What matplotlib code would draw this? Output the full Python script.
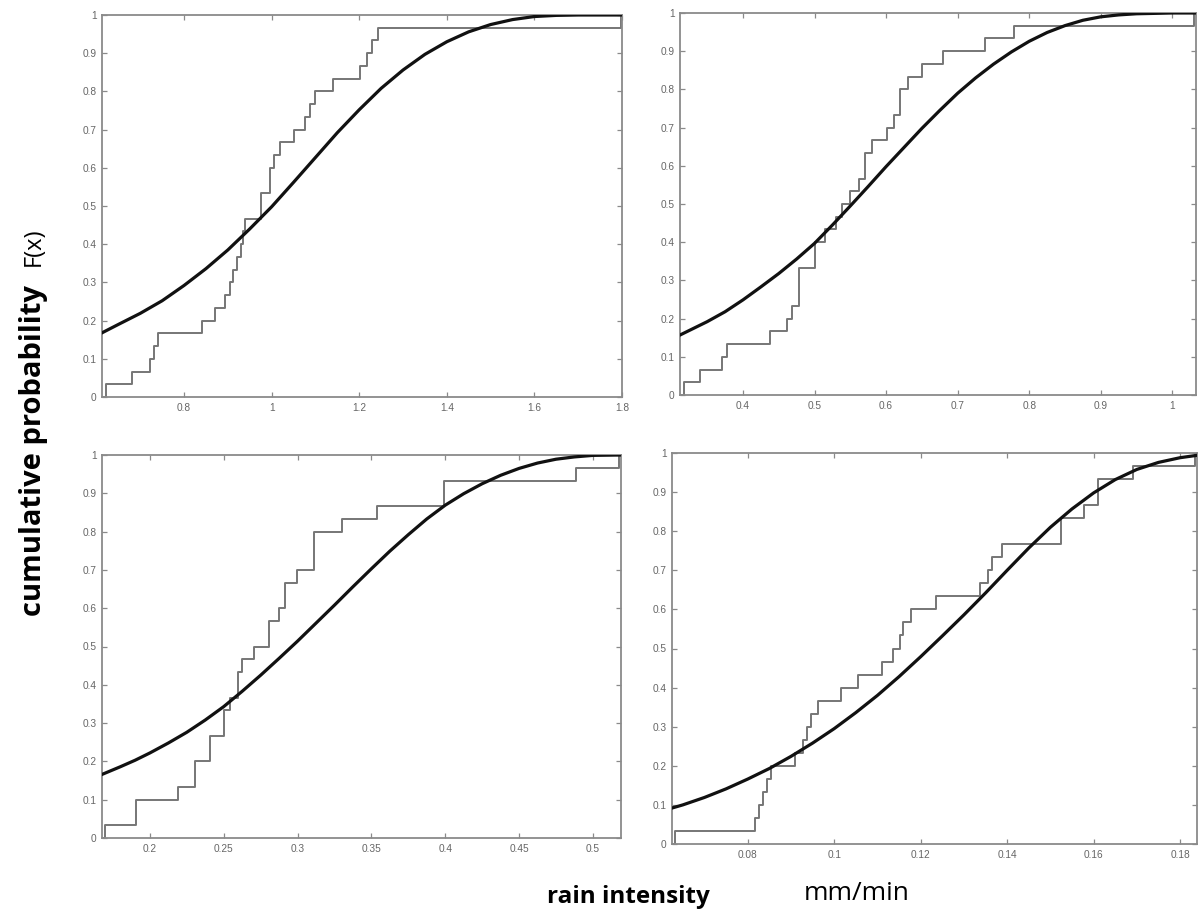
import matplotlib
matplotlib.use("Agg")
import matplotlib.pyplot as plt
import numpy as np

# ---- panel data ----
# sorted rain-intensity samples behind each empirical CDF (30 values each)
SAMPLES_TL = [0.6225, 0.680, 0.7215, 0.731, 0.7406, 0.841, 0.870, 0.893, 0.904, 0.912,
              0.922, 0.929, 0.935, 0.940, 0.975, 0.975, 0.996, 0.996, 1.006, 1.019,
              1.051, 1.077, 1.087, 1.099, 1.141, 1.202, 1.217, 1.228, 1.242, 1.797]
SAMPLES_TR = [0.317, 0.3395, 0.3707, 0.3776, 0.4382, 0.4615, 0.4685, 0.478, 0.478, 0.478,
              0.500, 0.500, 0.515, 0.530, 0.538, 0.550, 0.5616, 0.570, 0.570, 0.580,
              0.601, 0.6105, 0.620, 0.620, 0.630, 0.650, 0.680, 0.7386, 0.778, 1.030]
SAMPLES_BL = [0.1699, 0.1903, 0.1903, 0.2193, 0.2306, 0.2306, 0.2408, 0.2408, 0.2503, 0.2503,
              0.2544, 0.2600, 0.2600, 0.2623, 0.2702, 0.2804, 0.2804, 0.2872, 0.2913, 0.2913,
              0.2997, 0.3110, 0.3110, 0.3110, 0.3303, 0.3541, 0.399, 0.399, 0.4887, 0.5175]
SAMPLES_BR = [0.0631, 0.0817, 0.0827, 0.0836, 0.0845, 0.0855, 0.0910, 0.0929, 0.0938, 0.0947,
              0.0962, 0.1015, 0.1056, 0.1110, 0.1136, 0.1153, 0.1159, 0.1178, 0.1236, 0.1338,
              0.1356, 0.1366, 0.1387, 0.1525, 0.1525, 0.1577, 0.1610, 0.1610, 0.1691, 0.1834]

# fitted distribution curves (x, F(x))
CURVE_TL_X = [0.6126, 0.65, 0.70, 0.75, 0.80, 0.85, 0.90, 0.95, 1.00, 1.05, 1.10, 1.15,
              1.20, 1.25, 1.30, 1.35, 1.40, 1.45, 1.50, 1.55, 1.60, 1.65, 1.70, 1.80]
CURVE_TL_Y = [0.168, 0.190, 0.219, 0.252, 0.292, 0.336, 0.385, 0.440, 0.498, 0.562, 0.627, 0.692,
              0.752, 0.808, 0.856, 0.897, 0.930, 0.956, 0.975, 0.988, 0.996, 0.999, 1.000, 1.000]
CURVE_TR_X = [0.312, 0.35, 0.375, 0.40, 0.425, 0.45, 0.475, 0.50, 0.525, 0.55, 0.575, 0.60,
              0.625, 0.65, 0.675, 0.70, 0.725, 0.75, 0.775, 0.80, 0.825, 0.85, 0.875, 0.90,
              0.925, 0.95, 1.00, 1.033]
CURVE_TR_Y = [0.157, 0.192, 0.218, 0.249, 0.283, 0.318, 0.356, 0.397, 0.445, 0.495, 0.546, 0.598,
              0.648, 0.698, 0.745, 0.790, 0.830, 0.866, 0.898, 0.926, 0.949, 0.967, 0.981, 0.990,
              0.995, 0.998, 1.000, 1.000]
CURVE_BL_X = [0.1676, 0.18, 0.19, 0.20, 0.2125, 0.225, 0.2375, 0.25, 0.2625, 0.275, 0.2875, 0.30,
              0.3125, 0.325, 0.3375, 0.35, 0.3625, 0.375, 0.3875, 0.40, 0.4125, 0.425, 0.4375,
              0.45, 0.4625, 0.475, 0.4875, 0.50, 0.519]
CURVE_BL_Y = [0.166, 0.186, 0.203, 0.222, 0.248, 0.276, 0.308, 0.343, 0.383, 0.425, 0.469, 0.514,
              0.561, 0.608, 0.656, 0.703, 0.749, 0.792, 0.833, 0.869, 0.899, 0.925, 0.947,
              0.965, 0.979, 0.989, 0.995, 0.999, 1.000]
CURVE_BR_X = [0.0625, 0.065, 0.070, 0.075, 0.080, 0.085, 0.090, 0.095, 0.100, 0.105, 0.110, 0.115,
              0.120, 0.125, 0.130, 0.135, 0.140, 0.145, 0.150, 0.155, 0.160, 0.165, 0.170, 0.175,
              0.180, 0.1839]
CURVE_BR_Y = [0.092, 0.100, 0.119, 0.141, 0.166, 0.193, 0.224, 0.258, 0.295, 0.336, 0.380, 0.428,
              0.479, 0.532, 0.586, 0.642, 0.700, 0.757, 0.810, 0.857, 0.898, 0.932, 0.958, 0.976,
              0.988, 0.994]

XLIM_TL = (0.6126, 1.80)
XLIM_TR = (0.312, 1.033)
XLIM_BL = (0.1676, 0.519)
XLIM_BR = (0.0625, 0.1839)

XTICKS_TL = [0.8, 1.0, 1.2, 1.4, 1.6, 1.8]
XTICKLABELS_TL = ["0.8", "1", "1.2", "1.4", "1.6", "1.8"]
XTICKS_TR = [0.4, 0.5, 0.6, 0.7, 0.8, 0.9, 1.0]
XTICKLABELS_TR = ["0.4", "0.5", "0.6", "0.7", "0.8", "0.9", "1"]
XTICKS_BL = [0.2, 0.25, 0.3, 0.35, 0.4, 0.45, 0.5]
XTICKLABELS_BL = ["0.2", "0.25", "0.3", "0.35", "0.4", "0.45", "0.5"]
XTICKS_BR = [0.08, 0.10, 0.12, 0.14, 0.16, 0.18]
XTICKLABELS_BR = ["0.08", "0.1", "0.12", "0.14", "0.16", "0.18"]

YTICKS = [0.0, 0.1, 0.2, 0.3, 0.4, 0.5, 0.6, 0.7, 0.8, 0.9, 1.0]
YTICKLABELS = ["0", "0.1", "0.2", "0.3", "0.4", "0.5", "0.6", "0.7", "0.8", "0.9", "1"]

FRAME_GRAY = "#8a8a8a"
STEP_GRAY = "#767676"
TICK_TEXT = "#666666"


def draw_panel(ax, samples, curve_x, curve_y, xlim, xticks, xticklabels):
    """One empirical CDF with its fitted curve, MATLAB-like styling."""
    samples = np.asarray(samples)
    levels = np.arange(1, len(samples) + 1) / len(samples)
    xs = np.concatenate([[xlim[0]], samples, [xlim[1]]])
    ys = np.concatenate([[0.0], levels, [1.0]])
    ax.step(xs, ys, where="post", color=STEP_GRAY, lw=1.4, zorder=2)
    ax.plot(curve_x, curve_y, color="#111111", lw=2.3, zorder=3, solid_joinstyle="round")

    ax.set_xlim(*xlim)
    ax.set_ylim(0, 1)
    ax.set_xticks(xticks)
    ax.set_xticklabels(xticklabels)
    ax.set_yticks(YTICKS)
    ax.set_yticklabels(YTICKLABELS)
    ax.tick_params(direction="in", length=3.5, width=0.9, color=FRAME_GRAY,
                   labelsize=7.3, labelcolor=TICK_TEXT, top=True, right=True, pad=4)
    for lab in ax.get_xticklabels() + ax.get_yticklabels():
        lab.set_fontfamily("Liberation Sans")
    for spine in ax.spines.values():
        spine.set_color(FRAME_GRAY)
        spine.set_linewidth(1.3)


def main():
    fig = plt.figure(figsize=(11.98, 9.16), dpi=100)

    ax_tl = fig.add_axes([102 / 1198, 1 - 397 / 916, 520 / 1198, 382 / 916])
    ax_tr = fig.add_axes([680 / 1198, 1 - 395 / 916, 516 / 1198, 382 / 916])
    ax_bl = fig.add_axes([102 / 1198, 1 - 838 / 916, 519 / 1198, 383 / 916])
    ax_br = fig.add_axes([672 / 1198, 1 - 844 / 916, 525 / 1198, 391 / 916])

    draw_panel(ax_tl, SAMPLES_TL, CURVE_TL_X, CURVE_TL_Y, XLIM_TL, XTICKS_TL, XTICKLABELS_TL)
    draw_panel(ax_tr, SAMPLES_TR, CURVE_TR_X, CURVE_TR_Y, XLIM_TR, XTICKS_TR, XTICKLABELS_TR)
    draw_panel(ax_bl, SAMPLES_BL, CURVE_BL_X, CURVE_BL_Y, XLIM_BL, XTICKS_BL, XTICKLABELS_BL)
    draw_panel(ax_br, SAMPLES_BR, CURVE_BR_X, CURVE_BR_Y, XLIM_BR, XTICKS_BR, XTICKLABELS_BR)

    label_font = ["Open Sans", "DejaVu Sans"]
    fig.text(34 / 1198, 1 - 450 / 916, "cumulative probability", rotation=90,
             ha="center", va="center", fontsize=21, fontweight="bold", family=label_font)
    fig.text(34 / 1198, 1 - 247 / 916, "F(x)", rotation=90,
             ha="center", va="center", fontsize=17, family=label_font)
    fig.text(628 / 1198, 1 - 897 / 916, "rain intensity",
             ha="center", va="center", fontsize=17.5, fontweight="bold", family=label_font)
    fig.text(857 / 1198, 1 - 894 / 916, "mm/min",
             ha="center", va="center", fontsize=19, family=label_font)

    fig.savefig("out.png", dpi=100, facecolor="white")
    plt.close(fig)


if __name__ == "__main__":
    main()
